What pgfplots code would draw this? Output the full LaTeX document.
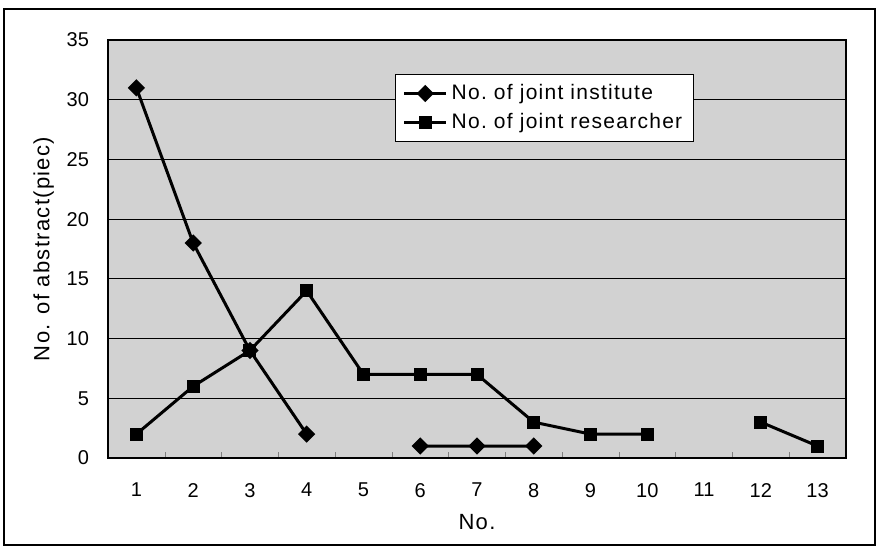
\documentclass[border=0pt]{standalone}
\usepackage{fontspec}
\setmainfont{Liberation Sans}
\newfontfamily\lsfont[LetterSpace=6]{Liberation Sans}
\usepackage{pgfplots}
\pgfplotsset{compat=1.18}
\begin{document}
\fontsize{10}{12}\selectfont
\begin{tikzpicture}
\begin{axis}[
  scale only axis,
  width=369pt, height=209pt,
  xmin=0.5, xmax=13.5, ymin=0, ymax=35,
  xtick={1,...,13},
  minor xtick={1.5,2.5,...,12.5},
  major x tick style={draw=none},
  minor tick length=3pt,
  xtick pos=bottom,
  tick align=inside,
  ytick={0,5,...,35},
  major y tick style={draw=none},
  ymajorgrids,
  grid style={black, line width=0.6pt},
  axis line style={line width=1pt},
  axis background/.style={fill=gray!35},
  /pgf/number format/assume math mode=true,
  tick label style={font=\fontsize{10}{12}\selectfont},
  xticklabel style={yshift=-9pt},
  yticklabel style={xshift=-6pt},
  xlabel={No.},
  ylabel={No. of abstract(piec)},
  label style={font=\lsfont\fontsize{11}{13}\selectfont},
  xlabel style={yshift=-1.5pt},
  ylabel style={yshift=-0.5pt},
  unbounded coords=jump,
  clip=false,
  legend cell align=left,
  legend image code/.code={\draw[mark repeat=2,mark phase=2] plot coordinates {(0cm,0cm) (10.5pt,0cm) (21pt,0cm)};},
  legend style={at={(0.389,0.919)}, anchor=north west, fill=white, draw=black, line width=0.6pt, font=\lsfont\fontsize{10.5}{12.5}\selectfont, row sep=1.5pt, inner xsep=3.5pt, inner ysep=3pt},
]
\addplot[black, line width=1.5pt, mark=square*, mark size=2.3pt, mark options={rotate=45}] coordinates {
 (1,31) (2,18) (3,9) (4,2) (5,nan) (6,1) (7,1) (8,1)
};
\addlegendentry{No.\ of joint institute}
\addplot[black, line width=1.5pt, mark=square*, mark size=2.5pt] coordinates {
 (1,2) (2,6) (3,9) (4,14) (5,7) (6,7) (7,7) (8,3) (9,2) (10,2) (11,nan) (12,3) (13,1)
};
\addlegendentry{No.\ of joint researcher}
\draw[line width=0.6pt] ([xshift=-52pt,yshift=-43.5pt]rel axis cs:0,0) rectangle ([xshift=14.5pt,yshift=15.5pt]rel axis cs:1,1);
\path ([xshift=-54pt,yshift=-46pt]rel axis cs:0,0) rectangle ([xshift=16.5pt,yshift=20pt]rel axis cs:1,1);
\end{axis}
\end{tikzpicture}
\end{document}
